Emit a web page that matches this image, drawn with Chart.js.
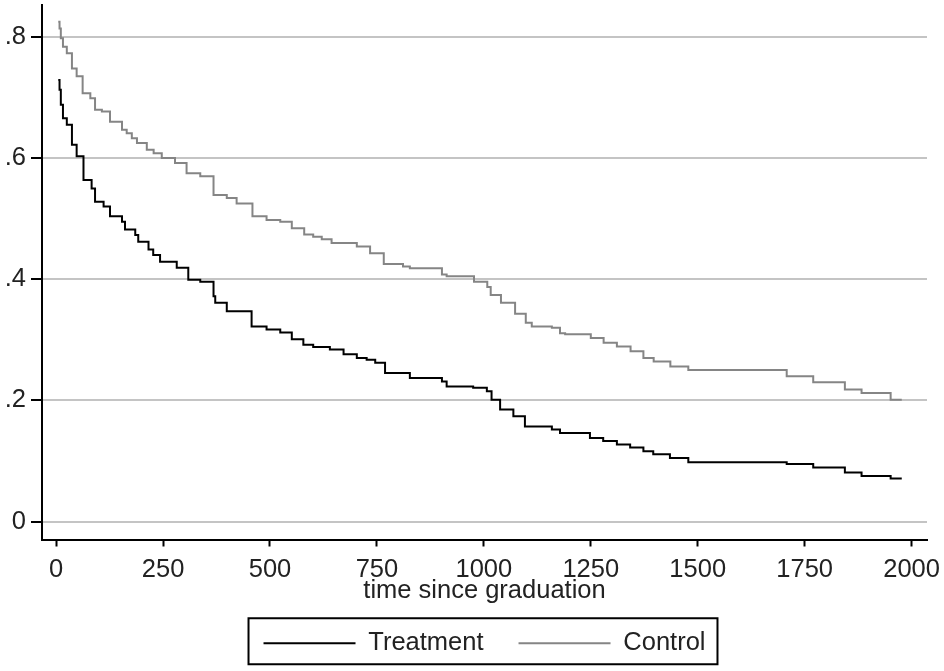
<!DOCTYPE html>
<html>
<head>
<meta charset="utf-8">
<script src="https://cdn.jsdelivr.net/npm/chart.js@4"></script>
<style>
  body { margin: 0; background: #fff; }
  #wrap { width: 944px; height: 671px; position: relative; }
</style>
</head>
<body>
<div id="wrap"><canvas id="survival__graph"></canvas></div>
<script>
// Kaplan-Meier style curves
const treatTime = [5, 8, 11, 16, 25, 37, 48, 64, 83, 91, 111, 126, 154, 161, 185, 192, 216, 227, 243, 282, 309, 337, 368, 372, 399, 457, 492, 524, 551, 578, 601, 640, 672, 703, 726, 746, 769, 827, 902, 913, 975, 1007, 1018, 1038, 1069, 1096, 1159, 1178, 1248, 1279, 1311, 1342, 1373, 1396, 1435, 1478, 1708, 1770, 1844, 1883, 1951, 1977];
const treatSurv = [0.729, 0.713, 0.688, 0.666, 0.655, 0.622, 0.603, 0.564, 0.55, 0.528, 0.52, 0.504, 0.495, 0.482, 0.473, 0.462, 0.449, 0.44, 0.429, 0.419, 0.399, 0.396, 0.372, 0.361, 0.347, 0.322, 0.317, 0.312, 0.301, 0.292, 0.288, 0.284, 0.276, 0.27, 0.267, 0.262, 0.245, 0.237, 0.231, 0.223, 0.221, 0.215, 0.201, 0.185, 0.174, 0.157, 0.152, 0.146, 0.138, 0.133, 0.127, 0.122, 0.116, 0.111, 0.105, 0.098, 0.095, 0.089, 0.081, 0.075, 0.071, 0.071];

const ctrlTime = [5, 8, 11, 16, 25, 37, 48, 62, 80, 91, 107, 126, 154, 165, 177, 189, 212, 228, 247, 278, 305, 337, 368, 399, 422, 459, 492, 524, 551, 580, 601, 621, 644, 703, 734, 766, 811, 827, 902, 913, 977, 1008, 1016, 1040, 1073, 1098, 1112, 1159, 1178, 1190, 1250, 1280, 1311, 1343, 1373, 1397, 1436, 1478, 1708, 1770, 1844, 1883, 1951, 1977];
const ctrlSurv = [0.825, 0.814, 0.798, 0.784, 0.773, 0.748, 0.735, 0.707, 0.699, 0.68, 0.677, 0.66, 0.647, 0.641, 0.633, 0.625, 0.614, 0.608, 0.6, 0.592, 0.575, 0.57, 0.539, 0.534, 0.525, 0.504, 0.498, 0.495, 0.484, 0.474, 0.47, 0.466, 0.46, 0.454, 0.443, 0.425, 0.421, 0.418, 0.408, 0.405, 0.396, 0.387, 0.374, 0.361, 0.343, 0.328, 0.322, 0.32, 0.311, 0.309, 0.303, 0.295, 0.289, 0.281, 0.27, 0.264, 0.256, 0.25, 0.24, 0.23, 0.218, 0.212, 0.201, 0.201];

const seriesLabels = ["Treatment", "Control"];
const xTicks = [0, 250, 500, 750, 1000, 1250, 1500, 1750, 2000];
const yTicks = [0, 0.2, 0.4, 0.6, 0.8];
const yTickLabels = ["0", ".2", ".4", ".6", ".8"];

const FONT = "'Liberation Sans', Arial, sans-serif";
const TEXT = "#222";

const toPoints = (xs, ys) => xs.map((x, i) => ({ x: x, y: ys[i] }));

// box around the legend, Stata style
const legendFrame = {
  id: "legendFrame",
  afterDraw(chart) {
    const boxes = chart.legend && chart.legend.legendHitBoxes;
    if (!boxes || !boxes.length) return;
    const first = boxes[0];
    const last = boxes[boxes.length - 1];
    const mid = first.top + first.height / 2;
    const left = first.left - 15;
    const right = last.left + last.width + 12;
    const c = chart.ctx;
    c.save();
    c.strokeStyle = "#000";
    c.lineWidth = 2;
    c.strokeRect(left, mid - 25, right - left, 46);
    c.restore();
  },
};

const survivalGraph = () => {
  let ctx = document.getElementById("survival__graph").getContext("2d");
  let myChart = new Chart(ctx, {
    type: "line",
    data: {
      datasets: [
        {
          label: seriesLabels[0],
          data: toPoints(treatTime, treatSurv),
          borderColor: "#000000",
          backgroundColor: "#000000",
          borderWidth: 2,
          pointRadius: 0,
          stepped: "before",
        },
        {
          label: seriesLabels[1],
          data: toPoints(ctrlTime, ctrlSurv),
          borderColor: "#858585",
          backgroundColor: "#858585",
          borderWidth: 2,
          pointRadius: 0,
          stepped: "before",
        },
      ],
    },
    options: {
      animation: false,
      responsive: true,
      maintainAspectRatio: false,
      layout: {
        padding: { top: 5, right: 17, bottom: 5, left: 0 },
      },
      plugins: {
        tooltip: { enabled: false },
        legend: {
          display: true,
          position: "bottom",
          fullSize: false,
          labels: {
            boxWidth: 92,
            boxHeight: 2,
            padding: 35,
            color: TEXT,
            font: { family: FONT, size: 25.5 },
            generateLabels: (chart) =>
              chart.data.datasets.map((ds, i) => ({
                text: ds.label,
                fillStyle: ds.borderColor,
                strokeStyle: ds.borderColor,
                lineWidth: 0,
                hidden: false,
                datasetIndex: i,
                fontColor: TEXT,
              })),
          },
        },
      },
      scales: {
        x: {
          type: "linear",
          position: "bottom",
          min: -33,
          max: 2036,
          afterBuildTicks: (s) => {
            s.ticks = xTicks.map((v) => ({ value: v }));
          },
          afterFit: (s) => {
            s.height = 56;
            s.paddingLeft = 0;
            s.paddingRight = 0;
          },
          ticks: {
            autoSkip: false,
            maxRotation: 0,
            padding: 8,
            color: TEXT,
            font: { family: FONT, size: 25.5 },
            callback: (v) => String(v),
          },
          grid: {
            drawOnChartArea: false,
            drawTicks: true,
            tickLength: 7,
            tickColor: "#000",
            tickWidth: 2,
          },
          border: { display: true, color: "#000", width: 2 },
          title: {
            display: true,
            text: "time since graduation",
            color: TEXT,
            font: { family: FONT, size: 25.5 },
            padding: { top: 0, bottom: -11 },
          },
        },
        y: {
          type: "linear",
          position: "left",
          min: -0.0297,
          max: 0.8528,
          afterBuildTicks: (s) => {
            s.ticks = yTicks.map((v) => ({ value: v }));
          },
          afterFit: (s) => {
            s.width = 42;
            s.paddingTop = 0;
            s.paddingBottom = 0;
          },
          ticks: {
            padding: 5,
            color: TEXT,
            font: { family: FONT, size: 25.5 },
            callback: (v) => {
              const i = yTicks.findIndex((t) => Math.abs(t - v) < 1e-9);
              return i >= 0 ? yTickLabels[i] : "";
            },
          },
          grid: {
            drawOnChartArea: true,
            color: "#c4c4c4",
            lineWidth: 2,
            tickLength: 11,
            tickColor: "#000",
            tickWidth: 2,
          },
          border: { display: true, color: "#000", width: 2 },
        },
      },
    },
    plugins: [legendFrame],
  });
};

survivalGraph();
</script>
</body>
</html>
